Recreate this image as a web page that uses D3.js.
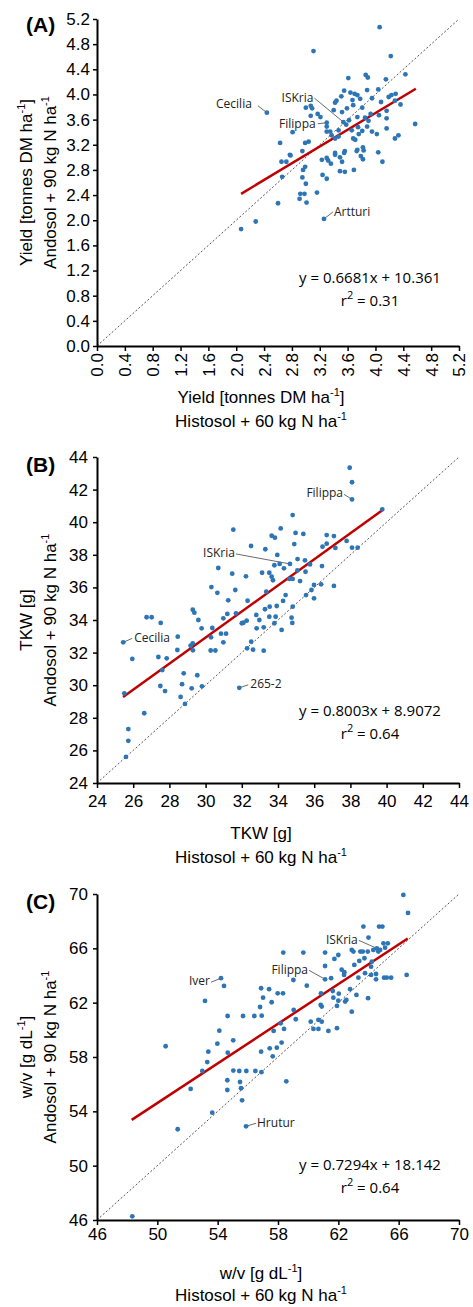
<!DOCTYPE html>
<html lang="en">
<head>
<meta charset="UTF-8">
<title>Histosol vs Andosol</title>
<script src="https://cdnjs.cloudflare.com/ajax/libs/d3/7.8.5/d3.min.js"></script>
<style>
    body { margin: 0; background: #fff; }
    svg { display: block; }
    .tick text { font-family: "Liberation Sans", Arial, sans-serif; font-size: 17px; fill: #000; }
    .title { font-family: "Liberation Sans", Arial, sans-serif; font-size: 17px; fill: #000; }
    .eq { font-family: "Open Sans", "Noto Sans", sans-serif; font-size: 15px; fill: #000; }
    .lbl { font-family: "Open Sans", "Noto Sans", sans-serif; font-size: 12px; fill: #222; }
</style>
</head>
<body>
<svg id="chart" width="473" height="1307"></svg>
<script>
    // panel A - yield, [histosol, andosol]
    const yieldPoints = [
        [4.06,5.07],[3.11,4.69],[4.22,4.61],[4.43,4.32],[3.61,4.26],[3.86,4.31],[3.89,4.27],[4.15,4.24],
        [3.88,4.07],[4.04,4.08],[3.55,4.06],[3.64,4.03],[3.70,4.01],[3.74,3.99],[3.51,3.97],[3.44,3.90],
        [3.42,3.87],[3.67,3.91],[3.78,3.93],[3.81,3.79],[3.95,3.94],[4.08,3.88],[4.19,3.96],[4.23,3.99],
        [4.29,4.01],[4.28,3.90],[4.36,3.84],[3.68,3.83],[3.59,3.78],[3.52,3.72],[3.00,3.79],[3.07,3.82],
        [3.09,3.78],[3.40,3.75],[3.17,3.69],[3.21,3.64],[3.07,3.66],[3.30,3.55],[3.30,3.49],[3.54,3.56],
        [3.58,3.52],[3.62,3.59],[3.74,3.64],[3.85,3.63],[3.93,3.69],[3.90,3.58],[4.05,3.67],[4.16,3.74],
        [4.16,3.62],[4.57,3.53],[3.47,3.43],[3.30,3.41],[3.35,3.41],[3.37,3.35],[3.66,3.43],[3.75,3.48],
        [3.81,3.42],[3.88,3.49],[3.95,3.41],[4.02,3.37],[4.16,3.46],[2.81,3.40],[3.42,3.30],[3.47,3.33],
        [3.68,3.30],[3.71,3.28],[3.76,3.37],[4.28,3.30],[4.33,3.35],[2.63,3.23],[2.99,3.23],[3.04,3.25],
        [3.56,3.10],[3.55,3.07],[3.74,3.12],[3.82,3.16],[3.83,3.11],[4.04,3.08],[3.42,3.07],[2.78,3.03],
        [2.95,3.10],[2.65,2.93],[2.72,2.93],[3.23,2.96],[3.30,2.99],[3.32,2.95],[3.36,2.90],[3.42,3.04],
        [3.49,3.00],[3.52,2.93],[3.73,3.10],[3.79,3.02],[3.82,2.97],[4.10,2.93],[2.99,2.85],[2.96,2.80],
        [2.66,2.69],[2.95,2.68],[3.24,2.72],[3.30,2.66],[3.49,2.78],[3.56,2.77],[3.69,2.80],[3.00,2.58],
        [2.92,2.42],[2.98,2.42],[2.91,2.34],[3.01,2.28],[3.16,2.44],[2.60,2.27],[3.26,2.02],[2.28,1.98],
        [2.07,1.86],[2.44,3.71],[2.77,3.04]
    ];
    const yieldFit = [[2.07, 2.42], [4.58, 4.09]];
    const yieldTicks = [0.0, 0.4, 0.8, 1.2, 1.6, 2.0, 2.4, 2.8, 3.2, 3.6, 4.0, 4.4, 4.8, 5.2];
    const yieldLabels = [["Cecilia", 2.44, 3.71], ["ISKria", 3.54, 3.56], ["Filippa", 3.30, 3.55], ["Artturi", 3.26, 2.02]];
    const yieldEq = ["y = 0.6681x + 10.361", "0.31"];

    // panel B - TKW
    const tkwPoints = [
        [37.96,43.34],[38.09,42.45],[38.09,41.40],[39.76,40.79],[34.81,40.44],[31.53,39.54],[34.15,39.62],
        [33.65,39.17],[33.83,39.05],[34.97,39.34],[35.40,39.28],[36.69,39.21],[37.09,39.15],[34.90,38.66],
        [32.51,38.54],[33.30,38.34],[36.46,38.50],[36.69,38.68],[37.17,38.42],[37.79,38.85],[38.09,38.44],
        [38.40,38.44],[33.96,37.99],[30.70,37.19],[31.47,36.84],[32.23,36.68],[33.12,36.90],[33.52,36.90],
        [33.65,36.66],[33.72,36.44],[33.80,37.36],[34.09,37.44],[34.33,37.17],[34.66,37.44],[35.08,37.74],
        [35.49,37.66],[35.77,37.41],[35.07,37.04],[35.52,36.96],[34.62,36.52],[34.81,36.52],[35.22,36.39],
        [36.43,37.31],[35.99,36.15],[36.38,36.19],[37.09,36.09],[35.85,35.84],[35.99,35.33],[35.55,35.53],
        [30.32,36.02],[30.65,35.67],[31.64,35.84],[31.25,35.21],[32.32,35.18],[33.35,35.74],[34.42,35.53],
        [34.28,35.17],[33.54,34.82],[33.93,34.86],[34.81,34.82],[33.28,34.66],[29.29,34.63],[29.38,34.45],
        [31.20,34.37],[31.68,34.41],[32.80,34.31],[26.74,34.17],[27.02,34.17],[27.52,33.82],[29.60,34.00],
        [29.78,33.49],[30.37,33.51],[30.98,34.10],[32.00,33.80],[32.09,33.83],[32.27,33.96],[32.97,34.00],
        [32.82,33.49],[33.21,33.55],[33.52,34.20],[33.87,34.20],[33.80,33.80],[34.20,33.39],[34.75,34.14],
        [34.79,33.82],[25.45,32.63],[28.46,32.98],[25.95,31.61],[27.39,31.73],[27.85,31.65],[27.61,30.93],
        [28.44,32.16],[29.17,32.42],[29.29,32.57],[29.30,32.14],[30.30,32.94],[30.85,33.16],[31.13,33.16],
        [30.98,32.63],[30.28,32.13],[30.54,32.13],[32.29,32.26],[32.52,32.67],[32.62,32.18],[33.21,32.12],
        [28.79,30.73],[29.54,30.61],[27.50,29.95],[27.76,29.64],[28.70,30.06],[29.23,29.81],[29.80,29.93],
        [28.62,29.28],[28.86,28.85],[31.86,29.84],[25.51,29.50],[26.61,28.28],[25.73,27.31],[25.73,26.59],
        [25.60,25.60]
    ];
    const tkwFit = [[25.44, 29.27], [39.8, 40.76]];
    const tkwTicks = [24, 26, 28, 30, 32, 34, 36, 38, 40, 42, 44];
    const tkwLabels = [["Filippa", 38.09, 41.40], ["ISKria", 34.66, 37.44], ["Cecilia", 25.45, 32.63], ["265-2", 31.86, 29.84]];
    const tkwEq = ["y = 0.8003x + 8.9072", "0.64"];

    // panel C - w/v
    const wvPoints = [
        [66.31,69.93],[66.62,68.61],[63.66,67.60],[64.70,67.60],[64.92,67.60],[64.00,66.79],[62.89,65.88],
        [63.00,65.76],[63.46,65.76],[63.62,65.76],[63.95,65.76],[64.32,65.88],[64.55,66.00],[64.65,65.76],
        [64.77,65.88],[64.99,66.37],[65.28,66.37],[65.10,66.05],[58.35,65.69],[59.68,65.69],[61.12,65.69],
        [62.00,65.51],[61.74,65.22],[61.12,64.70],[63.06,64.78],[63.39,65.07],[63.73,65.27],[64.22,65.02],
        [64.17,64.65],[62.22,64.43],[62.40,64.24],[62.38,64.04],[63.33,63.84],[63.77,64.17],[64.17,64.04],
        [64.50,64.11],[64.50,63.72],[65.03,63.84],[65.21,63.84],[65.50,63.84],[66.53,64.04],[61.12,63.72],
        [61.52,63.80],[59.02,63.67],[59.91,63.25],[54.22,63.80],[54.42,63.23],[53.16,62.13],[56.88,63.06],
        [57.41,62.99],[57.01,62.37],[57.58,62.03],[57.98,62.69],[58.33,62.69],[56.81,61.68],[56.92,61.04],
        [54.66,61.02],[55.68,61.02],[56.43,61.02],[60.85,62.69],[61.63,62.86],[62.03,62.66],[61.67,62.37],
        [62.00,62.15],[62.45,62.08],[62.53,62.20],[60.83,61.83],[60.90,61.71],[61.91,61.76],[62.78,62.99],
        [63.20,62.57],[63.97,62.33],[62.89,61.34],[59.04,61.46],[59.18,60.78],[60.17,60.60],[60.68,60.73],
        [60.90,60.60],[60.35,60.07],[60.68,60.07],[61.34,59.92],[61.91,60.12],[58.18,60.48],[58.40,60.07],
        [57.71,59.92],[54.11,59.94],[55.03,59.23],[53.98,58.98],[58.24,59.06],[57.45,58.64],[57.92,58.69],
        [50.55,58.79],[53.38,58.39],[54.67,58.32],[56.88,58.39],[57.65,58.05],[53.31,57.63],[52.98,56.97],
        [55.04,57.00],[55.43,56.97],[55.90,56.97],[56.50,56.97],[56.90,56.88],[58.55,56.21],[54.64,56.29],
        [55.48,56.16],[52.21,55.65],[54.64,55.57],[55.55,55.70],[55.62,54.81],[53.64,53.90],[51.35,52.68],
        [55.88,52.90],[48.34,46.27]
    ];
    const wvFit = [[48.3, 53.37], [66.6, 66.72]];
    const wvTicks = [46, 50, 54, 58, 62, 66, 70];
    const wvLabels = [["ISKria", 64.55, 66.00], ["Filippa", 61.12, 63.72], ["Iver", 54.22, 63.80], ["Hrutur", 55.88, 52.90]];
    const wvEq = ["y = 0.7294x + 18.142", "0.64"];

    const svg = d3.select("#chart");
    const left = 97, right = 459;
    const dotColor = "#2e75b6";
    const fitColor = "#c00000";

    // text with superscripts: parts = [[str, isSup], ...]
    function richText(sel, parts) {
        let up = false;
        parts.forEach(p => {
            const t = sel.append("tspan").text(p[0]);
            if (p[1] && !up) { t.attr("dy", -7).attr("font-size", "11px"); up = true; }
            else if (p[1]) { t.attr("font-size", "11px"); }
            else if (up) { t.attr("dy", 7); up = false; }
        });
        return sel;
    }

    function drawPanel(cfg) {
        const x = d3.scaleLinear().domain(cfg.domain).range([left, right]);
        const y = d3.scaleLinear().domain(cfg.domain).range([cfg.bottom, cfg.top]);
        const g = svg.append("g");

        // 1:1 line
        g.append("line")
            .attr("x1", x(cfg.domain[0])).attr("y1", y(cfg.domain[0]))
            .attr("x2", x(cfg.domain[1])).attr("y2", y(cfg.domain[1]))
            .attr("stroke", "#555").attr("stroke-width", 1).attr("stroke-dasharray", "2,2");

        // axes
        const xAxis = g.append("g")
            .attr("transform", `translate(0,${cfg.bottom})`)
            .call(d3.axisBottom(x).tickValues(cfg.ticks).tickFormat(cfg.fmt)
                .tickSize(5).tickSizeOuter(0).tickPadding(cfg.xPad));
        const yAxis = g.append("g")
            .attr("transform", `translate(${left},0)`)
            .call(d3.axisLeft(y).tickValues(cfg.ticks).tickFormat(cfg.fmt)
                .tickSize(4).tickSizeOuter(0).tickPadding(cfg.yPad));
        [xAxis, yAxis].forEach(a => {
            a.select(".domain").attr("stroke", "#000").attr("stroke-width", 2);
            a.selectAll(".tick line").attr("stroke", "#000").attr("stroke-width", 1.5);
        });
        if (cfg.rotate) {
            xAxis.selectAll(".tick text")
                .attr("transform", "rotate(-90)")
                .attr("text-anchor", "end")
                .attr("x", -7).attr("y", 0).attr("dy", "0.35em");
        }

        // leader lines + labels
        cfg.labels.forEach(l => {
            const o = cfg.offsets[l[0]];
            const px = x(l[1]), py = y(l[2]);
            g.append("line")
                .attr("x1", px).attr("y1", py)
                .attr("x2", px + o.lx).attr("y2", py + o.ly)
                .attr("stroke", "#444").attr("stroke-width", 0.8);
            g.append("text").attr("class", "lbl")
                .attr("x", px + o.dx).attr("y", py + o.dy)
                .attr("text-anchor", o.dx < 0 ? "end" : "start")
                .text(l[0]);
        });

        // regression line
        g.append("line")
            .attr("x1", x(cfg.fit[0][0])).attr("y1", y(cfg.fit[0][1]))
            .attr("x2", x(cfg.fit[1][0])).attr("y2", y(cfg.fit[1][1]))
            .attr("stroke", fitColor).attr("stroke-width", 2.5);

        // points
        g.selectAll("circle.pt")
            .data(cfg.points)
            .enter()
            .append("circle")
            .attr("class", "pt")
            .attr("cx", d => x(d[0]))
            .attr("cy", d => y(d[1]))
            .attr("r", 2.4)
            .attr("fill", dotColor);

        // equation
        g.append("text").attr("class", "eq")
            .attr("x", 370).attr("y", cfg.eqY).attr("text-anchor", "middle")
            .text(cfg.eq[0]);
        richText(g.append("text").attr("class", "eq")
            .attr("x", 370).attr("y", cfg.eqY + 23).attr("text-anchor", "middle"),
            [["r", 0], ["2", 1], [" = " + cfg.eq[1], 0]]);

        // panel letter
        g.append("text")
            .attr("x", 26).attr("y", cfg.letterY)
            .attr("font-family", "Liberation Sans, Arial, sans-serif")
            .attr("font-size", "21px").attr("font-weight", "bold")
            .text(cfg.letter);

        // y title
        const cy = (cfg.top + cfg.bottom) / 2;
        richText(g.append("text").attr("class", "title")
            .attr("transform", `translate(32,${cy}) rotate(-90)`)
            .attr("text-anchor", "middle"), cfg.yTitle);
        richText(g.append("text").attr("class", "title")
            .attr("transform", `translate(56,${cy}) rotate(-90)`)
            .attr("text-anchor", "middle"), [["Andosol + 90 kg N ha", 0], ["-1", 1]]);

        // x title
        richText(g.append("text").attr("class", "title")
            .attr("x", 261).attr("y", cfg.xTitleY).attr("text-anchor", "middle"), cfg.xTitle);
        richText(g.append("text").attr("class", "title")
            .attr("x", 261).attr("y", cfg.xTitleY + cfg.xGap).attr("text-anchor", "middle"),
            [["Histosol + 60 kg N ha", 0], ["-1", 1]]);
    }

    drawPanel({
        letter: "(A)", letterY: 32, top: 19, bottom: 346, domain: [0, 5.2],
        ticks: yieldTicks, fmt: d3.format(".1f"), rotate: true, xPad: 2, yPad: 3,
        points: yieldPoints, fit: yieldFit, labels: yieldLabels, eq: yieldEq, eqY: 283,
        offsets: {
            "Cecilia": { dx: -15, dy: -5, lx: -9, ly: -7 },
            "ISKria": { dx: -30, dy: -20, lx: -29, ly: -24 },
            "Filippa": { dx: -11, dy: 5, lx: -9, ly: 1 },
            "Artturi": { dx: 10, dy: -3, lx: 9, ly: -7 }
        },
        yTitle: [["Yield [tonnes DM ha", 0], ["-1", 1], ["]", 0]],
        xTitle: [["Yield [tonnes DM ha", 0], ["-1", 1], ["]", 0]], xTitleY: 403, xGap: 24
    });

    drawPanel({
        letter: "(B)", letterY: 472, top: 457, bottom: 783, domain: [24, 44],
        ticks: tkwTicks, fmt: d3.format("d"), rotate: false, xPad: 7, yPad: 5,
        points: tkwPoints, fit: tkwFit, labels: tkwLabels, eq: tkwEq, eqY: 716,
        offsets: {
            "Filippa": { dx: -9, dy: -2, lx: -8, ly: -5 },
            "ISKria": { dx: -55, dy: -7, lx: -54, ly: -10 },
            "Cecilia": { dx: 11, dy: 0, lx: 9, ly: -4 },
            "265-2": { dx: 11, dy: 0, lx: 9, ly: -3 }
        },
        yTitle: [["TKW [g]", 0]],
        xTitle: [["TKW [g]", 0]], xTitleY: 839, xGap: 24
    });

    drawPanel({
        letter: "(C)", letterY: 909, top: 894, bottom: 1220, domain: [46, 70],
        ticks: wvTicks, fmt: d3.format("d"), rotate: false, xPad: 3, yPad: 5,
        points: wvPoints, fit: wvFit, labels: wvLabels, eq: wvEq, eqY: 1170,
        offsets: {
            "ISKria": { dx: -19, dy: -4, lx: -18, ly: -8 },
            "Filippa": { dx: -17, dy: -5, lx: -16, ly: -9 },
            "Iver": { dx: -11, dy: 7, lx: -10, ly: 4 },
            "Hrutur": { dx: 11, dy: 1, lx: 10, ly: -3 }
        },
        yTitle: [["w/v [g dL", 0], ["-1", 1], ["]", 0]],
        xTitle: [["w/v [g dL", 0], ["-1", 1], ["]", 0]], xTitleY: 1279, xGap: 22
    });
</script>
</body>
</html>
